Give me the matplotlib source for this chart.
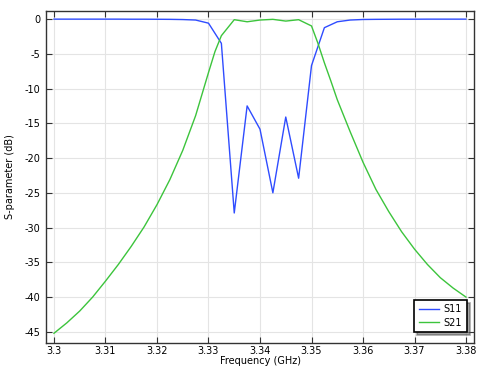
import matplotlib
matplotlib.use("Agg")
import matplotlib.pyplot as plt
import numpy as np

freq_s11 = [3.3000, 3.3025, 3.3050, 3.3075, 3.3100, 3.3125, 3.3150, 3.3175, 3.3200,
            3.3225, 3.3250, 3.3275, 3.3300, 3.3325, 3.3350, 3.3375, 3.3400, 3.3425,
            3.3450, 3.3475, 3.3500, 3.3525, 3.3550, 3.3575, 3.3600, 3.3625, 3.3650,
            3.3675, 3.3700, 3.3725, 3.3750, 3.3775, 3.3800]

s11 = [-0.02, -0.02, -0.02, -0.02, -0.02, -0.02, -0.03, -0.03, -0.04,
       -0.05, -0.08, -0.15, -0.6, -3.5, -27.9, -12.5, -15.85, -25.0,
       -14.1, -22.9, -6.7, -1.25, -0.4, -0.15, -0.07, -0.05, -0.04,
       -0.03, -0.03, -0.02, -0.02, -0.02, -0.02]

freq_s21 = [3.3000, 3.3025, 3.3050, 3.3075, 3.3100, 3.3125, 3.3150, 3.3175, 3.3200,
            3.3225, 3.3250, 3.32625, 3.3275, 3.32875, 3.3300, 3.33125, 3.3325,
            3.3350, 3.3375, 3.3400, 3.3425, 3.3450, 3.3475, 3.3500, 3.35125,
            3.3525, 3.35375, 3.3550, 3.3575, 3.3600, 3.3625, 3.3650, 3.3675,
            3.3700, 3.3725, 3.3750, 3.3775, 3.3800]

s21 = [-45.2, -43.7, -42.0, -40.0, -37.7, -35.3, -32.7, -29.9, -26.7,
       -23.1, -18.9, -16.4, -13.9, -10.8, -7.7, -4.7, -2.4,
       -0.1, -0.4, -0.15, -0.05, -0.3, -0.1, -1.0, -3.5,
       -6.3, -8.9, -11.6, -16.2, -20.6, -24.5, -27.7, -30.6,
       -33.1, -35.3, -37.2, -38.7, -40.0]

series_names = ["S11", "S21"]
xticks = [3.30, 3.31, 3.32, 3.33, 3.34, 3.35, 3.36, 3.37, 3.38]
xtick_labels = ["3.3", "3.31", "3.32", "3.33", "3.34", "3.35", "3.36", "3.37", "3.38"]
yticks = [0, -5, -10, -15, -20, -25, -30, -35, -40, -45]

plt.rcParams['font.family'] = ['DejaVu Sans']
fig = plt.figure(figsize=(4.79, 3.66), dpi=100)
ax = fig.add_axes([46/479, 23/366, (474-46)/479, (343-11)/366])

ax.plot(freq_s11, s11, color='#2f4cff', lw=1.0, label=series_names[0])
ax.plot(freq_s21, s21, color='#3cc43c', lw=1.0, label=series_names[1])

ax.set_xlim(3.29845, 3.38155)
ax.set_ylim(-46.6, 1.15)
ax.set_xticks(xticks)
ax.set_xticklabels(xtick_labels)
ax.set_yticks(yticks)
ax.set_yticklabels([str(v) for v in yticks])
ax.grid(True, color='#e4e4e4', lw=0.8)
ax.set_axisbelow(True)
ax.tick_params(direction='in', top=True, right=True, labelsize=7, length=4,
               width=0.8, color='#333333')
ax.tick_params(axis='x', pad=2.5)
ax.tick_params(axis='y', pad=4)
for s in ax.spines.values():
    s.set_color('#333333')
    s.set_linewidth(1.0)

ax.set_xlabel("Frequency (GHz)", fontsize=7, labelpad=0)
ax.set_ylabel("S-parameter (dB)", fontsize=7, labelpad=7)

leg = ax.legend(loc='lower right', bbox_to_anchor=(0.983, 0.033), borderaxespad=0,
                fontsize=7, frameon=True, fancybox=False, shadow=True,
                edgecolor='black', handlelength=2.1, handletextpad=0.5,
                borderpad=0.45, labelspacing=0.35)
leg.get_frame().set_linewidth(1.2)

fig.savefig("out.png", dpi=100)
